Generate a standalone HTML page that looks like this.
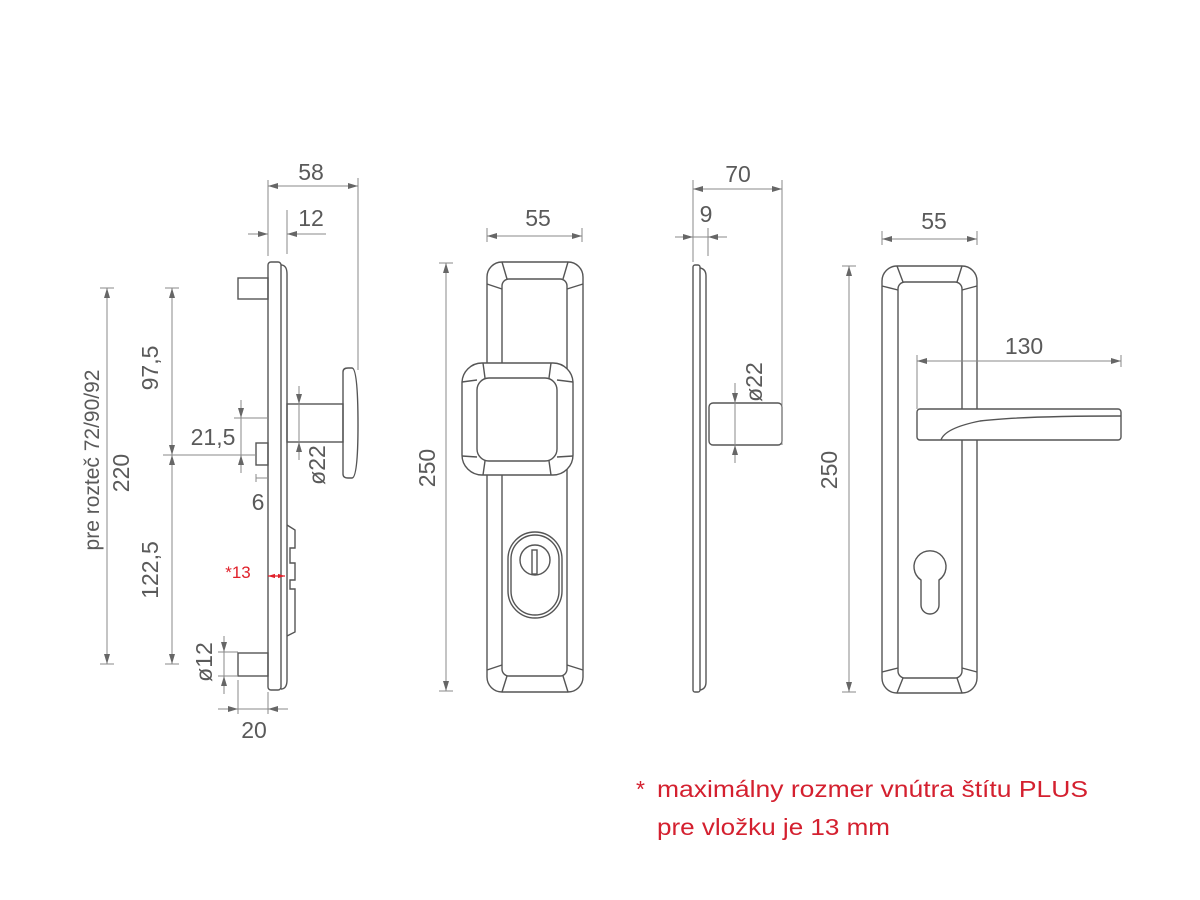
<!DOCTYPE html>
<html><head><meta charset="utf-8"><style>
html,body{margin:0;padding:0;background:#fff;}
svg{display:block}
text{font-family:"Liberation Sans",sans-serif;fill:#5a5a5a;}
</style></head><body>
<svg width="1200" height="900" viewBox="0 0 1200 900" xmlns="http://www.w3.org/2000/svg">
<defs>
<marker id="a" viewBox="0 0 10 6" refX="10" refY="3" markerWidth="16" markerHeight="6" markerUnits="userSpaceOnUse" orient="auto-start-reverse"><path d="M0,0L10,3L0,6z" fill="#666"/></marker>
<marker id="r" viewBox="0 0 10 6" refX="10" refY="3" markerWidth="7" markerHeight="5" markerUnits="userSpaceOnUse" orient="auto-start-reverse"><path d="M0,0L10,3L0,6z" fill="#e0202a"/></marker>
</defs>
<g fill="none" stroke="#555" stroke-width="1.4">
<rect x="268" y="262" width="13" height="428" rx="3"/>
<path d="M281,265 L282,265 Q287,266 287,274 L287,680 Q287,688 282,689 L281,689"/>
<rect x="238" y="278" width="30" height="21"/>
<rect x="238" y="653" width="30" height="23"/>
<rect x="256" y="443" width="12" height="22"/>
<rect x="287" y="404" width="56" height="38"/>
<path d="M343,372 Q343,368 348,368 L352,368 Q358,368 358,425 Q358,478 352,478 L348,478 Q343,478 343,474 Z"/>
<path d="M287,525 L295,530 L295,548 L290,548 L290,563 L295,563 L295,580 L290,580 L290,589 L295,589 L295,632 L287,636"/>
<rect x="487" y="262" width="96" height="430" rx="15"/>
<rect x="502" y="279" width="65" height="397" rx="7"/>
<path d="M502,262 L507,279 M568,262 L563,279 M487,284 L502,289 M583,284 L567,289 M487,670 L502,665 M583,670 L567,665 M502,692 L507,676 M568,692 L563,676"/>
<rect x="462" y="363" width="111" height="112" rx="20" fill="#fff"/>
<rect x="477" y="378" width="80" height="83" rx="12"/>
<path d="M483,363 L485,378 M551,363 L549,378 M462,382 L477,380 M573,382 L557,380 M462,456 L477,457 M573,456 L557,457 M483,475 L485,461 M551,475 L549,461"/>
<rect x="508" y="532" width="54" height="86" rx="27"/>
<rect x="511" y="535" width="48" height="80" rx="24"/>
<circle cx="535" cy="560" r="15"/>
<rect x="532" y="550" width="5" height="24"/>
<rect x="693" y="265" width="7" height="427" rx="2"/>
<path d="M700,268 Q706,269 706,276 L706,682 Q706,689 700,690"/>
<rect x="709" y="403" width="73" height="42" rx="4"/>
<rect x="882" y="266" width="95" height="427" rx="15"/>
<rect x="898" y="282" width="64" height="396" rx="7"/>
<path d="M897,266 L903,282 M962,266 L957,282 M882,286 L898,290 M977,286 L962,290 M882,672 L898,668 M977,672 L962,668 M897,693 L903,678 M962,693 L957,678"/>
<rect x="917" y="409" width="204" height="31" rx="3" fill="#fff"/>
<path d="M941,440 Q945,428 980,421 Q1020,416 1121,416"/>
<path d="M921,580 A16,16 0 1 1 939,580 L939,605 A9,9 0 0 1 921,605 Z"/>
</g>
<g fill="none" stroke="#8a8a8a" stroke-width="1">
<line x1="268" y1="180" x2="268" y2="256"/><line x1="358" y1="178" x2="358" y2="370"/>
<line x1="268" y1="186" x2="358" y2="186" marker-start="url(#a)" marker-end="url(#a)"/>
<line x1="287" y1="210" x2="287" y2="254"/>
<line x1="248" y1="234" x2="268" y2="234" marker-end="url(#a)"/>
<line x1="287" y1="234" x2="326" y2="234"/>
<line x1="303" y1="234" x2="287" y2="234" marker-end="url(#a)"/>
<line x1="100" y1="288" x2="114" y2="288"/><line x1="100" y1="664" x2="114" y2="664"/>
<line x1="107" y1="288" x2="107" y2="664" marker-start="url(#a)" marker-end="url(#a)"/>
<line x1="165" y1="288" x2="179" y2="288"/><line x1="165" y1="664" x2="179" y2="664"/>
<line x1="172" y1="288" x2="172" y2="455" marker-start="url(#a)" marker-end="url(#a)"/>
<line x1="172" y1="455" x2="172" y2="664" marker-start="url(#a)" marker-end="url(#a)"/>
<line x1="163" y1="455" x2="256" y2="455"/>
<line x1="234" y1="418" x2="268" y2="418"/>
<line x1="241" y1="400" x2="241" y2="418" marker-end="url(#a)"/>
<line x1="241" y1="473" x2="241" y2="455" marker-end="url(#a)"/>
<line x1="241" y1="418" x2="241" y2="455"/>
<line x1="256" y1="478" x2="268" y2="478"/><line x1="256" y1="474" x2="256" y2="482"/>
<line x1="299" y1="386" x2="299" y2="404" marker-end="url(#a)"/>
<line x1="299" y1="460" x2="299" y2="442" marker-end="url(#a)"/>
<line x1="299" y1="404" x2="299" y2="442"/>
<line x1="218" y1="652" x2="238" y2="652"/><line x1="218" y1="676" x2="238" y2="676"/>
<line x1="224" y1="636" x2="224" y2="652" marker-end="url(#a)"/>
<line x1="224" y1="694" x2="224" y2="676" marker-end="url(#a)"/>
<line x1="224" y1="652" x2="224" y2="676"/>
<line x1="238" y1="680" x2="238" y2="714"/><line x1="268" y1="692" x2="268" y2="714"/>
<line x1="218" y1="709" x2="238" y2="709" marker-end="url(#a)"/>
<line x1="288" y1="709" x2="268" y2="709" marker-end="url(#a)"/>
<line x1="238" y1="709" x2="268" y2="709"/>
<line x1="487" y1="228" x2="487" y2="242"/><line x1="582" y1="228" x2="582" y2="242"/>
<line x1="487" y1="236" x2="582" y2="236" marker-start="url(#a)" marker-end="url(#a)"/>
<line x1="439" y1="263" x2="453" y2="263"/><line x1="439" y1="691" x2="453" y2="691"/>
<line x1="446" y1="263" x2="446" y2="691" marker-start="url(#a)" marker-end="url(#a)"/>
<line x1="693" y1="180" x2="693" y2="262"/><line x1="782" y1="180" x2="782" y2="445"/>
<line x1="693" y1="189" x2="782" y2="189" marker-start="url(#a)" marker-end="url(#a)"/>
<line x1="708" y1="228" x2="708" y2="256"/>
<line x1="675" y1="237" x2="693" y2="237" marker-end="url(#a)"/>
<line x1="727" y1="237" x2="708" y2="237" marker-end="url(#a)"/>
<line x1="693" y1="237" x2="708" y2="237"/>
<line x1="735" y1="383" x2="735" y2="403" marker-end="url(#a)"/>
<line x1="735" y1="463" x2="735" y2="445" marker-end="url(#a)"/>
<line x1="735" y1="403" x2="735" y2="445"/>
<line x1="882" y1="231" x2="882" y2="245"/><line x1="977" y1="231" x2="977" y2="245"/>
<line x1="882" y1="239" x2="977" y2="239" marker-start="url(#a)" marker-end="url(#a)"/>
<line x1="842" y1="266" x2="856" y2="266"/><line x1="842" y1="692" x2="856" y2="692"/>
<line x1="849" y1="266" x2="849" y2="692" marker-start="url(#a)" marker-end="url(#a)"/>
<line x1="917" y1="355" x2="917" y2="409"/><line x1="1121" y1="355" x2="1121" y2="367"/>
<line x1="917" y1="361" x2="1121" y2="361" marker-start="url(#a)" marker-end="url(#a)"/>
</g>
<line x1="268" y1="576" x2="285" y2="576" stroke="#e0202a" stroke-width="1.3" marker-start="url(#r)" marker-end="url(#r)"/>
<g font-size="23">
<text x="311" y="180" text-anchor="middle">58</text>
<text x="311" y="226" text-anchor="middle">12</text>
<text transform="translate(99,460) rotate(-90)" text-anchor="middle" font-size="21">pre rozteč 72/90/92</text>
<text transform="translate(129,473) rotate(-90)" text-anchor="middle">220</text>
<text transform="translate(158,368) rotate(-90)" text-anchor="middle">97,5</text>
<text transform="translate(158,570) rotate(-90)" text-anchor="middle">122,5</text>
<text x="213" y="445" text-anchor="middle">21,5</text>
<text x="258" y="510" text-anchor="middle">6</text>
<text transform="translate(325,465) rotate(-90)" text-anchor="middle">ø22</text>
<text transform="translate(212,662) rotate(-90)" text-anchor="middle">ø12</text>
<text x="254" y="738" text-anchor="middle">20</text>
<text x="538" y="226" text-anchor="middle">55</text>
<text transform="translate(435,468) rotate(-90)" text-anchor="middle">250</text>
<text x="738" y="182" text-anchor="middle">70</text>
<text x="706" y="222" text-anchor="middle">9</text>
<text transform="translate(762,382) rotate(-90)" text-anchor="middle">ø22</text>
<text x="934" y="229" text-anchor="middle">55</text>
<text transform="translate(837,470) rotate(-90)" text-anchor="middle">250</text>
<text x="1024" y="354" text-anchor="middle">130</text>
</g>
<text x="238" y="578" text-anchor="middle" font-size="17" style="fill:#e0202a">*13</text>
<g font-size="23">
<text x="636" y="797" style="fill:#d4202f">*</text>
<text x="657" y="797" textLength="431" lengthAdjust="spacingAndGlyphs" style="fill:#d4202f">maximálny rozmer vnútra štítu PLUS</text>
<text x="657" y="835" textLength="233" lengthAdjust="spacingAndGlyphs" style="fill:#d4202f">pre vložku je 13 mm</text>
</g>
</svg>
</body></html>
